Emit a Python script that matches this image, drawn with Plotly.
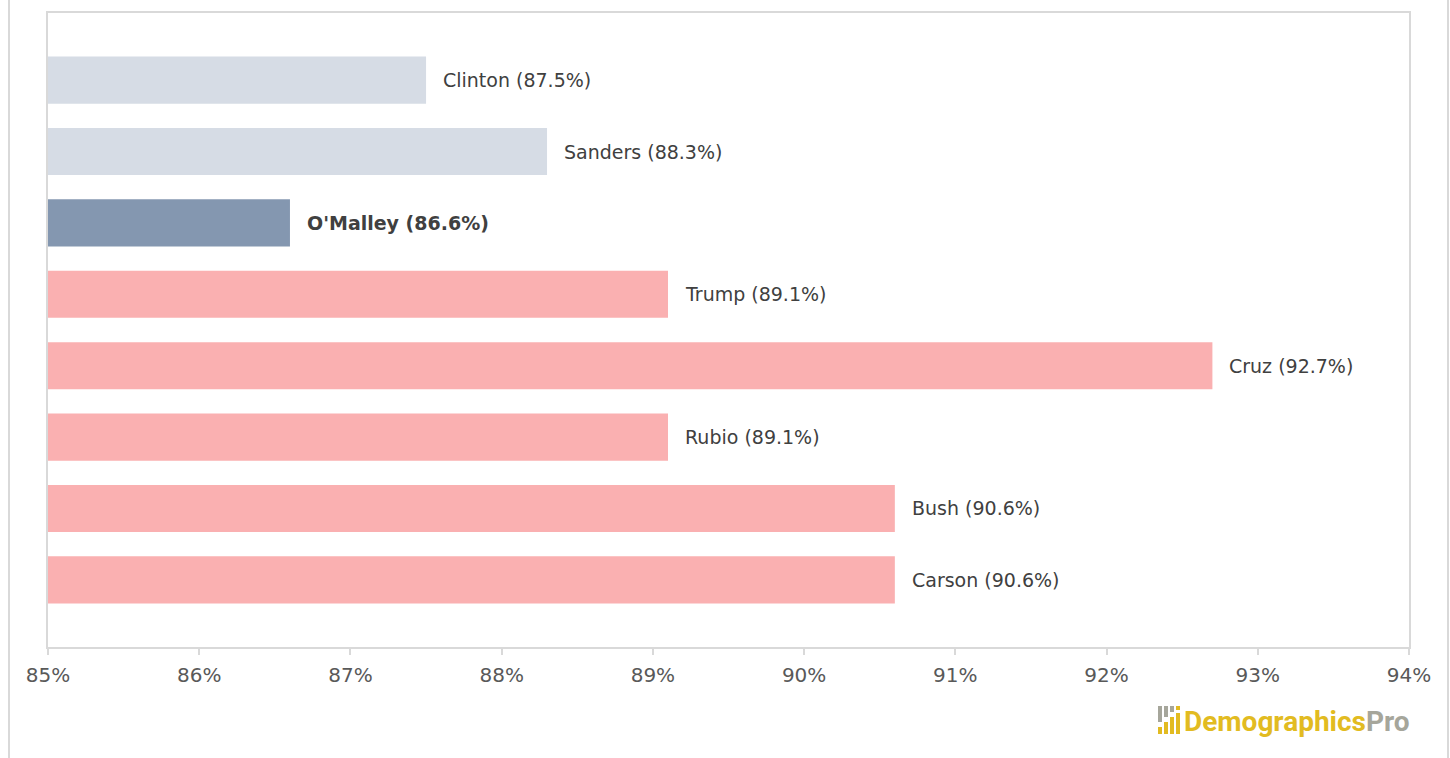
import plotly.graph_objects as go

# Candidate share values, top to bottom
candidates = ["Clinton", "Sanders", "O'Malley", "Trump", "Cruz", "Rubio", "Bush", "Carson"]
values = [87.5, 88.3, 86.6, 89.1, 92.7, 89.1, 90.6, 90.6]
bar_colors = ["#D6DCE5", "#D6DCE5", "#8497B0", "#FAB0B1", "#FAB0B1", "#FAB0B1", "#FAB0B1", "#FAB0B1"]
highlight = ["O'Malley"]
tick_vals = [85, 86, 87, 88, 89, 90, 91, 92, 93, 94]
tick_text = [f"{v}%" for v in tick_vals]

W, H = 1450, 758
L, R, T, B = 48, 41, 13, 111
pw, ph = W - L - R, H - T - B

def px(x):
    return (x - L) / pw

def py(y):
    return (H - B - y) / ph

ypos = list(range(len(candidates)))

fig = go.Figure()
fig.add_trace(go.Bar(
    x=values,
    y=ypos,
    orientation="h",
    marker=dict(color=bar_colors, line=dict(width=0)),
    width=0.66,
    hoverinfo="skip",
))

annotations = []
for i, (name, val) in enumerate(zip(candidates, values)):
    label = f"{name} ({val}%)"
    if name in highlight:
        label = f"<b>{label}</b>"
    annotations.append(dict(
        x=val, y=i, xref="x", yref="y",
        text=label, showarrow=False,
        xanchor="left", yanchor="middle", xshift=15,
        font=dict(size=19, color="#404040"),
    ))

# DemographicsPro wordmark
annotations.append(dict(
    x=px(1412), y=py(721), xref="paper", yref="paper",
    text='<span style="color:#E2BB21">Demographics</span><span style="color:#A6A69B">Pro</span>',
    showarrow=False, xanchor="right", yanchor="middle",
    font=dict(family="Roboto, sans-serif", size=28, weight="bold"),
))

shapes = []
# outer frame verticals
for xline in (9, 1448):
    shapes.append(dict(type="line", xref="paper", yref="paper",
                       x0=px(xline), x1=px(xline), y0=py(0), y1=py(H),
                       line=dict(color="#D9D9D9", width=2)))
# logo icon bars: (x0, x1, y0, y1, color)
icon = [
    (1158, 1162, 706, 722, "#A6A69B"), (1158, 1162, 727, 734, "#E2BB21"),
    (1164, 1168, 706, 717, "#A6A69B"), (1164, 1168, 722, 734, "#E2BB21"),
    (1170, 1174, 706, 712, "#A6A69B"), (1170, 1174, 717, 734, "#E2BB21"),
    (1176, 1180, 706, 710, "#E2BB21"), (1176, 1180, 713, 734, "#E2BB21"),
]
for x0, x1, y0, y1, c in icon:
    shapes.append(dict(type="rect", xref="paper", yref="paper",
                       x0=px(x0), x1=px(x1), y0=py(y1), y1=py(y0),
                       fillcolor=c, line=dict(width=0)))

fig.update_layout(
    width=W, height=H,
    margin=dict(l=L, r=R, t=T, b=B),
    paper_bgcolor="white", plot_bgcolor="white",
    font=dict(family="DejaVu Sans, sans-serif", color="#404040"),
    showlegend=False,
    bargap=0.34,
    annotations=annotations,
    shapes=shapes,
    xaxis=dict(
        range=[85, 94], tickvals=tick_vals, ticktext=tick_text,
        showgrid=False, zeroline=False,
        showline=True, mirror=True, linecolor="#D9D9D9", linewidth=2,
        ticks="outside", ticklen=6, tickcolor="#D9D9D9", tickwidth=2,
        ticklabelstandoff=3,
        tickfont=dict(size=20, color="#595959"),
    ),
    yaxis=dict(
        range=[len(candidates) - 1 + 0.94, -0.94],
        showticklabels=False, showgrid=False, zeroline=False,
        showline=True, mirror=True, linecolor="#D9D9D9", linewidth=2,
        ticks="",
    ),
)

fig.write_html("out.html")
